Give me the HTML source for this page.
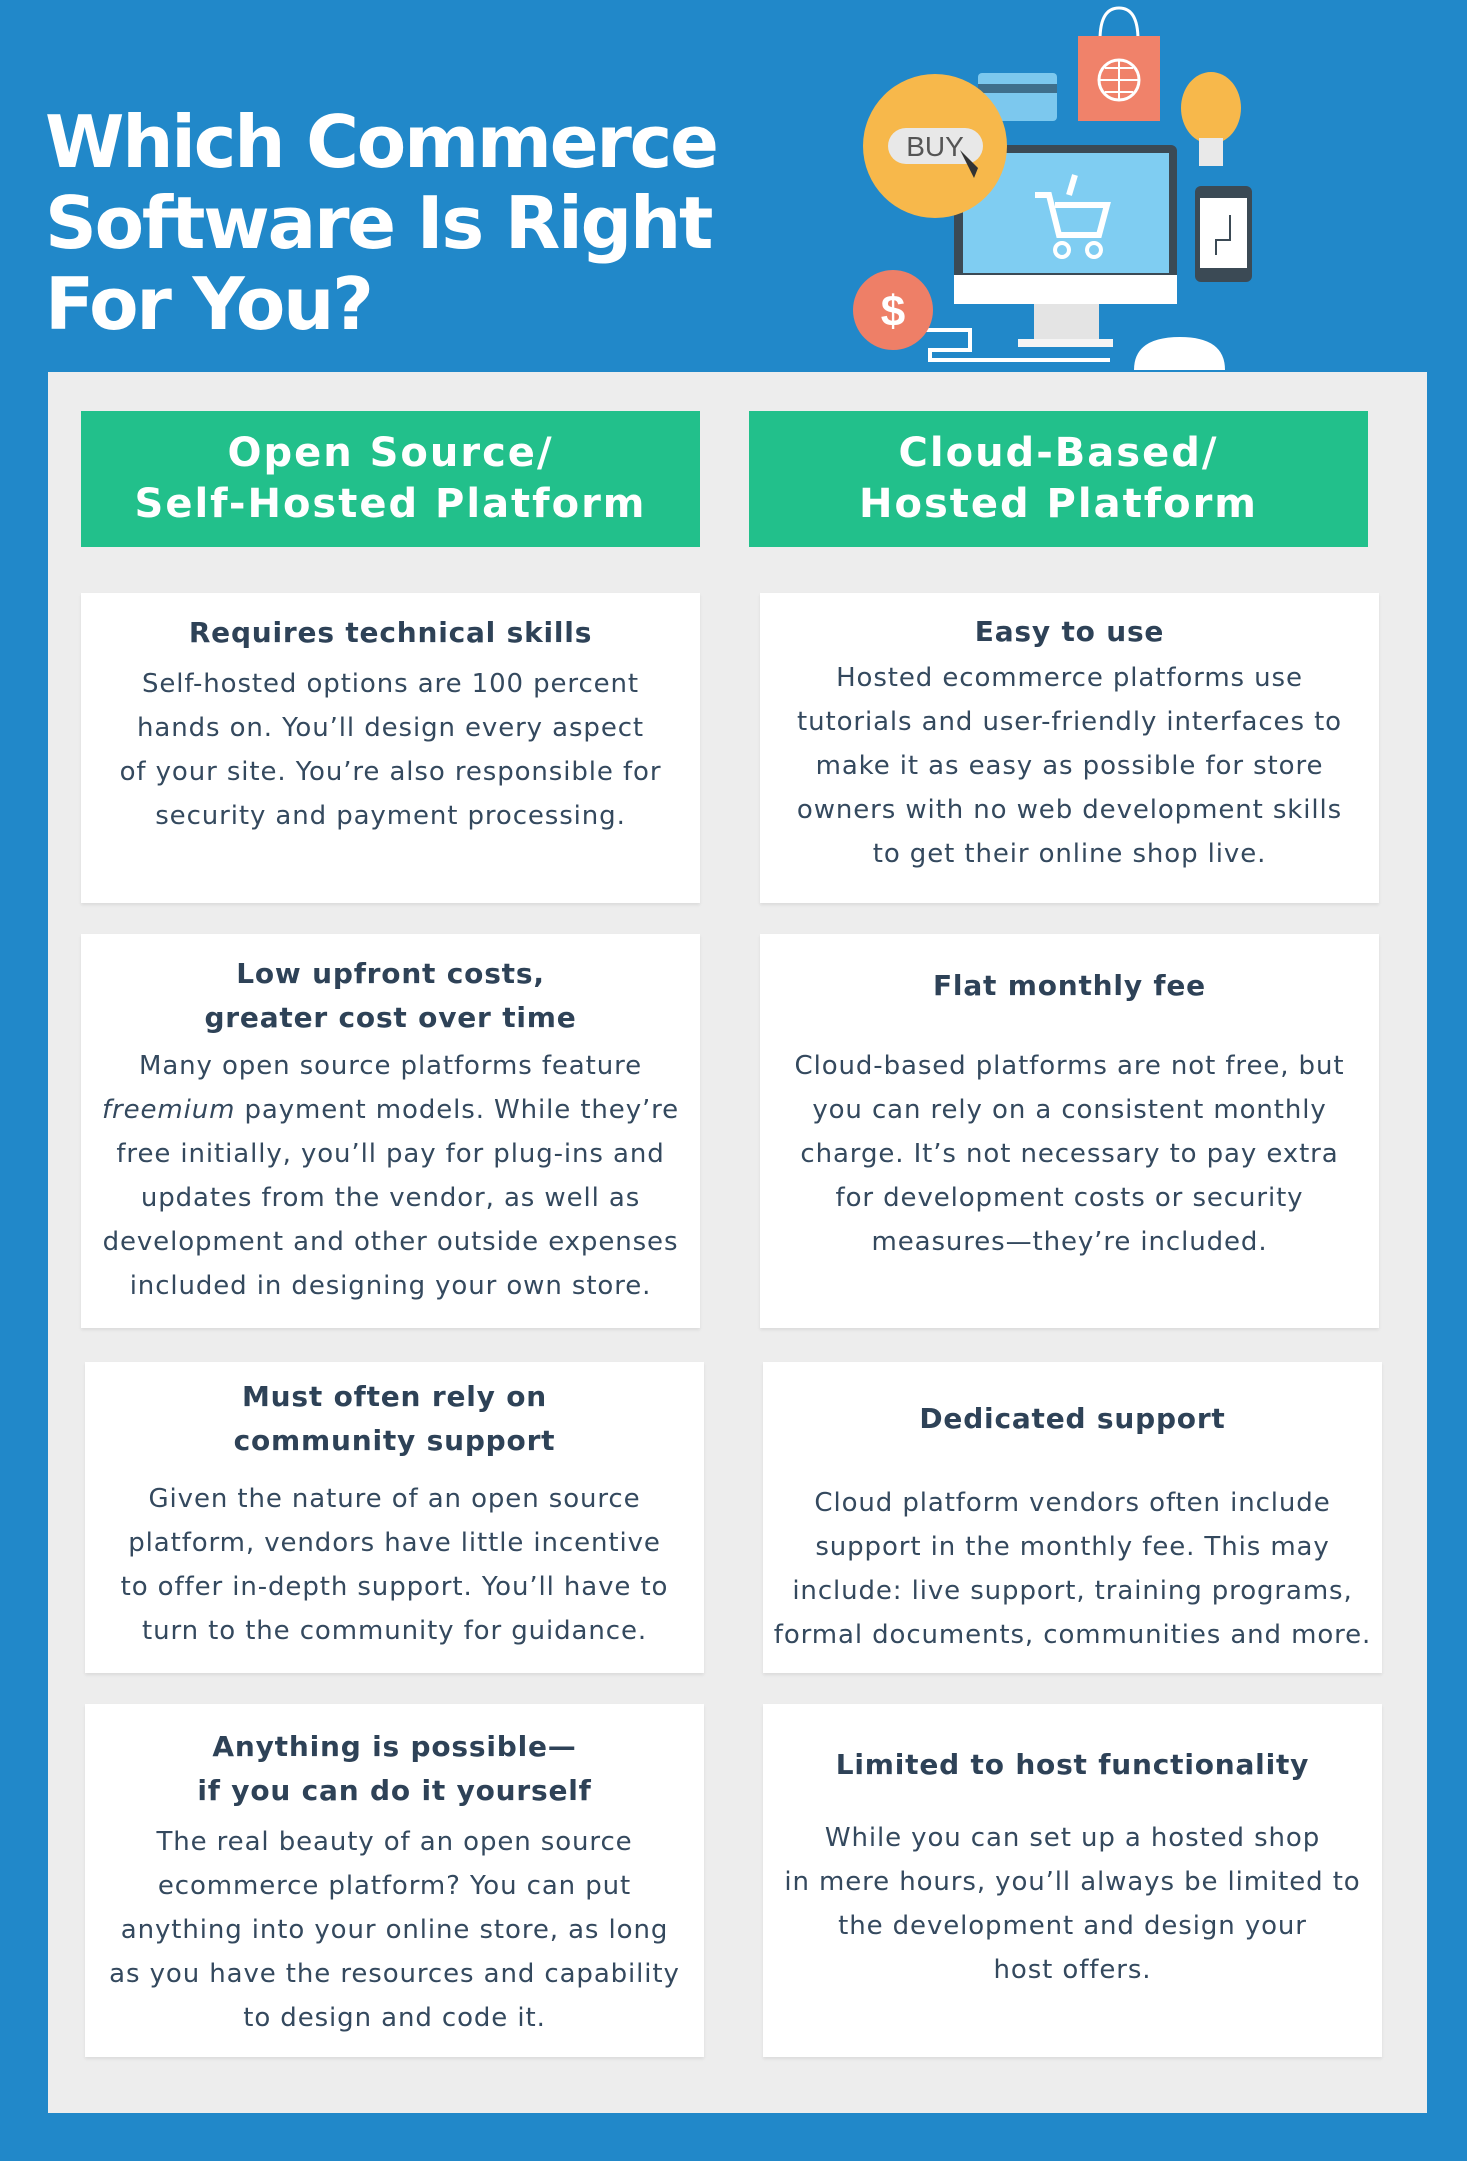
<!DOCTYPE html>
<html><head><meta charset="utf-8"><style>
*{margin:0;padding:0;box-sizing:border-box}
body{width:1467px;height:2161px;background:#2188c9;position:relative;overflow:hidden;font-family:"DejaVu Sans","Liberation Sans",sans-serif}
.title{position:absolute;left:45px;top:102px;color:#fff;font-family:"DejaVu Sans",sans-serif;font-weight:bold;font-size:72px;line-height:81px;letter-spacing:-2.2px}
.panel{position:absolute;left:48px;top:372px;width:1379px;height:1741px;background:#ededed}
.hdr{position:absolute;background:#22c08b;color:#fff;font-weight:bold;font-size:40px;line-height:51px;text-align:center;display:flex;align-items:center;justify-content:center;letter-spacing:2px}
.card{position:absolute;background:#fff;box-shadow:0 2px 3px rgba(0,0,0,0.08)}
.t{position:absolute;left:-40px;right:-40px;text-align:center;color:#2e4257;line-height:44px;white-space:nowrap}
.h{font-weight:bold;font-size:28px;letter-spacing:0.8px}
.b{font-size:26px;letter-spacing:0.9px;color:#34495e}
</style></head><body>
<div class="title">Which Commerce<br>Software Is Right<br>For You?</div>

<svg style="position:absolute;left:0;top:0" width="1467" height="380">
 <path d="M1100 40 Q1100 8 1119 8 Q1138 8 1138 40" fill="none" stroke="#fff" stroke-width="3"/>
 <rect x="1078" y="36" width="82" height="85" fill="#f0826a"/>
 <circle cx="1119" cy="80" r="20" fill="none" stroke="#fff" stroke-width="3"/>
 <path d="M1099 80h40M1119 60v40M1105 68h28M1105 92h28" stroke="#fff" stroke-width="2"/>
 <rect x="978" y="73" width="79" height="48" rx="4" fill="#7cc8ee"/>
 <rect x="978" y="84" width="79" height="9" fill="#3f6f8c"/>
 <ellipse cx="1211" cy="108" rx="30" ry="36" fill="#f7b84b"/>
 <rect x="1199" y="138" width="24" height="28" fill="#e9e9e9"/>
 <rect x="954" y="145" width="223" height="159" rx="6" fill="#3b4a55"/>
 <rect x="963" y="153" width="206" height="120" fill="#7fcdf2"/>
 <rect x="954" y="275" width="223" height="29" fill="#fff"/>
 <rect x="1034" y="304" width="65" height="35" fill="#e4e4e4"/>
 <rect x="1018" y="339" width="95" height="8" fill="#f4f4f4"/>
 <path d="M1035 195h14l10 40h40l8-30h-52M1075 175l-6 20" fill="none" stroke="#fff" stroke-width="6"/>
 <circle cx="1062" cy="250" r="7" fill="none" stroke="#fff" stroke-width="4"/>
 <circle cx="1094" cy="250" r="7" fill="none" stroke="#fff" stroke-width="4"/>
 <circle cx="935" cy="146" r="72" fill="#f7b84b"/>
 <rect x="888" y="128" width="95" height="36" rx="18" fill="#e8e8e8"/>
 <text x="935" y="156" text-anchor="middle" font-family="Liberation Sans Narrow,Liberation Sans,sans-serif" font-size="28" fill="#555">BUY</text>
 <path d="M960 150l14 28 4-10 10 10" fill="#333"/>
 <rect x="1195" y="186" width="57" height="96" rx="6" fill="#3b4a55"/>
 <rect x="1200" y="198" width="47" height="70" fill="#fff"/>
 <path d="M1230 215v25h-14v15" fill="none" stroke="#3b4a55" stroke-width="2"/>
 <path d="M910 330h60v20h-40v10h180" fill="none" stroke="#fff" stroke-width="4"/>
 <path d="M1134 370 Q1134 337 1180 337 Q1225 337 1225 370z" fill="#fff"/>
 <circle cx="893" cy="310" r="40" fill="#ee7f67"/>
 <text x="893" y="326" text-anchor="middle" font-family="Liberation Sans,sans-serif" font-weight="bold" font-size="44" fill="#fff">$</text>
</svg>

<div class="panel"></div>
<div class="hdr" style="left:81px;top:411px;width:619px;height:136px">Open Source/<br>Self-Hosted Platform</div>
<div class="hdr" style="left:749px;top:411px;width:619px;height:136px">Cloud-Based/<br>Hosted Platform</div>

<div class="card" style="left:81px;top:593px;width:619px;height:310px">
 <div class="t h" style="top:18px">Requires technical skills</div>
 <div class="t b" style="top:69px">Self-hosted options are 100 percent<br>hands on. You’ll design every aspect<br>of your site. You’re also responsible for<br>security and payment processing.</div>
</div>
<div class="card" style="left:760px;top:593px;width:619px;height:310px">
 <div class="t h" style="top:17px">Easy to use</div>
 <div class="t b" style="top:63px">Hosted ecommerce platforms use<br>tutorials and user-friendly interfaces to<br>make it as easy as possible for store<br>owners with no web development skills<br>to get their online shop live.</div>
</div>
<div class="card" style="left:81px;top:934px;width:619px;height:394px">
 <div class="t h" style="top:18px">Low upfront costs,<br>greater cost over time</div>
 <div class="t b" style="top:110px">Many open source platforms feature<br><i>freemium</i> payment models. While they’re<br>free initially, you’ll pay for plug-ins and<br>updates from the vendor, as well as<br>development and other outside expenses<br>included in designing your own store.</div>
</div>
<div class="card" style="left:760px;top:934px;width:619px;height:394px">
 <div class="t h" style="top:30px">Flat monthly fee</div>
 <div class="t b" style="top:110px">Cloud-based platforms are not free, but<br>you can rely on a consistent monthly<br>charge. It’s not necessary to pay extra<br>for development costs or security<br>measures—they’re included.</div>
</div>
<div class="card" style="left:85px;top:1362px;width:619px;height:311px">
 <div class="t h" style="top:13px">Must often rely on<br>community support</div>
 <div class="t b" style="top:115px">Given the nature of an open source<br>platform, vendors have little incentive<br>to offer in-depth support. You’ll have to<br>turn to the community for guidance.</div>
</div>
<div class="card" style="left:763px;top:1362px;width:619px;height:311px">
 <div class="t h" style="top:35px">Dedicated support</div>
 <div class="t b" style="top:119px">Cloud platform vendors often include<br>support in the monthly fee. This may<br>include: live support, training programs,<br>formal documents, communities and more.</div>
</div>
<div class="card" style="left:85px;top:1704px;width:619px;height:353px">
 <div class="t h" style="top:21px">Anything is possible—<br>if you can do it yourself</div>
 <div class="t b" style="top:116px">The real beauty of an open source<br>ecommerce platform? You can put<br>anything into your online store, as long<br>as you have the resources and capability<br>to design and code it.</div>
</div>
<div class="card" style="left:763px;top:1704px;width:619px;height:353px">
 <div class="t h" style="top:39px">Limited to host functionality</div>
 <div class="t b" style="top:112px">While you can set up a hosted shop<br>in mere hours, you’ll always be limited to<br>the development and design your<br>host offers.</div>
</div>
</body></html>
